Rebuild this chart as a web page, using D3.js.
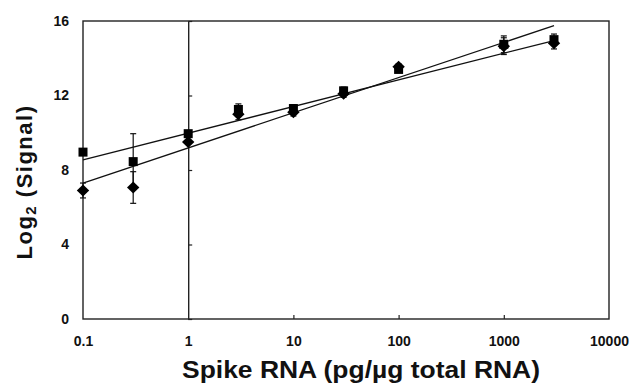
<!DOCTYPE html>
<html>
<head>
<meta charset="utf-8">
<script src="https://cdn.jsdelivr.net/npm/d3@7"></script>
<style>
  body { margin: 0; background: #fff; }
  svg { display: block; font-family: "Liberation Sans", Arial, sans-serif; font-weight: bold; }
</style>
</head>
<body>
<svg></svg>
<script>
var width = 629;
var height = 387;

// spike concentrations (pg/ug total RNA)
var spikeConc = [0.1, 0.3, 1, 3, 10, 30, 100, 1000, 3000];
// square series
var squareSignal = [8.96, 8.45, 9.95, 11.25, 11.3, 12.25, 13.4, 14.75, 15.0];
var squareErr    = [0.0, 1.5, 0.0, 0.3, 0.2, 0.2, 0.15, 0.45, 0.3];
// diamond series
var diamondSignal = [6.9, 7.06, 9.5, 11.0, 11.1, 12.1, 13.55, 14.65, 14.8];
var diamondErr    = [0.4, 0.85, 0.0, 0.3, 0.2, 0.2, 0.15, 0.45, 0.3];
// trend lines, [x, y] at both ends
var squareFit  = [[0.1, 8.55], [3000, 14.95]];
var diamondFit = [[0.1, 7.3], [3000, 15.75]];

var xTicks = [0.1, 1, 10, 100, 1000, 10000];
var yTicks = [0, 4, 8, 12, 16];

var margin = {left: 83, top: 21, right: 20, bottom: 68};
var w = width - margin.left - margin.right;
var h = height - margin.top - margin.bottom;

var svg = d3.select("svg")
            .attr("width", width)
            .attr("height", height);

var x = d3.scaleLog().domain([0.1, 10000]).range([0, w]);
var y = d3.scaleLinear().domain([0, 16]).range([h, 0]);

var g = svg.append("g")
    .attr("transform", "translate(" + margin.left + "," + margin.top + ")");

/* frame */
g.append("rect")
    .attr("width", w)
    .attr("height", h)
    .attr("fill", "none")
    .attr("stroke", "#222")
    .attr("stroke-width", 1.4);

/* x axis: ticks point up, labels below */
var xAxis = g.append("g")
    .attr("transform", "translate(0," + h + ")")
    .call(d3.axisBottom(x).tickValues(xTicks).tickSizeInner(-4).tickSizeOuter(0)
      .tickFormat(function(d) { return d < 1 ? "0.1" : d3.format("d")(d); }));
xAxis.select(".domain").remove();
xAxis.selectAll(".tick line")
    .attr("stroke", "#222")
    .attr("stroke-width", 1.2)
    .attr("display", function(d) { return (d === 0.1 || d === 10000 || d === 1) ? "none" : null; });
xAxis.selectAll(".tick text")
    .attr("y", 17)
    .attr("font-size", 14)
    .attr("font-family", null)
    .attr("fill", "#111");

/* y axis sits on x = 1, ticks point right */
var yAxis = g.append("g")
    .attr("transform", "translate(" + x(1) + ",0)")
    .call(d3.axisRight(y).tickValues(yTicks).tickSize(4).tickSizeOuter(0).tickFormat(""));
yAxis.select(".domain").attr("stroke", "#222").attr("stroke-width", 1.4);
yAxis.selectAll(".tick line")
    .attr("stroke", "#222")
    .attr("stroke-width", 1.2);

/* y tick labels at the left edge of the frame */
g.selectAll(".ylab")
    .data(yTicks)
  .enter().append("text")
    .attr("class", "ylab")
    .attr("x", -14)
    .attr("y", function(d) { return y(d); })
    .attr("dy", "0.35em")
    .attr("text-anchor", "end")
    .attr("font-size", 14)
    .attr("fill", "#111")
    .text(function(d) { return d; });

/* trend lines */
var line = d3.line()
    .x(function(d) { return x(d[0]); })
    .y(function(d) { return y(d[1]); });

[squareFit, diamondFit].forEach(function(fit) {
  g.append("path")
      .attr("d", line(fit))
      .attr("fill", "none")
      .attr("stroke", "#111")
      .attr("stroke-width", 1.3);
});

/* error bars */
function drawErr(vals, errs) {
  var data = spikeConc.map(function(c, i) { return {c: c, v: vals[i], e: errs[i]}; })
      .filter(function(d) { return d.e > 0; });
  var eb = g.append("g").selectAll("g").data(data).enter().append("g");
  eb.append("line")
      .attr("x1", function(d) { return x(d.c); })
      .attr("x2", function(d) { return x(d.c); })
      .attr("y1", function(d) { return y(d.v - d.e); })
      .attr("y2", function(d) { return y(d.v + d.e); })
      .attr("stroke", "#111").attr("stroke-width", 1.2);
  [-1, 1].forEach(function(s) {
    eb.append("line")
        .attr("x1", function(d) { return x(d.c) - 3; })
        .attr("x2", function(d) { return x(d.c) + 3; })
        .attr("y1", function(d) { return y(d.v + s * d.e); })
        .attr("y2", function(d) { return y(d.v + s * d.e); })
        .attr("stroke", "#111").attr("stroke-width", 1.2);
  });
}
drawErr(squareSignal, squareErr);
drawErr(diamondSignal, diamondErr);

/* markers */
g.append("g").selectAll("rect")
    .data(spikeConc)
  .enter().append("rect")
    .attr("x", function(d) { return x(d) - 4.5; })
    .attr("y", function(d, i) { return y(squareSignal[i]) - 4.5; })
    .attr("width", 9)
    .attr("height", 9)
    .attr("fill", "#000");

g.append("g").selectAll("path")
    .data(spikeConc)
  .enter().append("path")
    .attr("d", "M0,-6L6.2,0L0,6L-6.2,0Z")
    .attr("transform", function(d, i) { return "translate(" + x(d) + "," + y(diamondSignal[i]) + ")"; })
    .attr("fill", "#000");

/* axis titles */
svg.append("text")
    .attr("x", 361)
    .attr("y", 378)
    .attr("text-anchor", "middle")
    .attr("font-size", 23)
    .attr("textLength", 358)
    .attr("lengthAdjust", "spacingAndGlyphs")
    .attr("fill", "#111")
    .text("Spike RNA (pg/\u00b5g total RNA)");

var yt = svg.append("text")
    .attr("transform", "translate(32,182) rotate(-90)")
    .attr("text-anchor", "middle")
    .attr("font-size", 22)
    .attr("letter-spacing", 1.5)
    .attr("fill", "#111");
yt.append("tspan").text("Log");
yt.append("tspan").attr("font-size", 15).attr("dy", 4).text("2");
yt.append("tspan").attr("dy", -4).text(" (Signal)");
</script>
</body>
</html>
